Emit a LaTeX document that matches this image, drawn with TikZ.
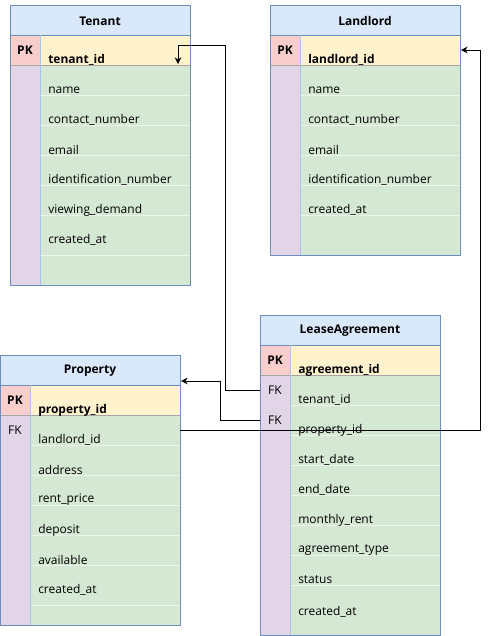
\documentclass[tikz,border=0pt]{standalone}
\usepackage{fontspec}
\setmainfont{Open Sans}
\usetikzlibrary{arrows.meta}

\definecolor{hdrfill}{HTML}{DAE8FC}
\definecolor{hdrline}{HTML}{6C8EBF}
\definecolor{pkfill}{HTML}{F8CECC}
\definecolor{keyfill}{HTML}{FFF2CC}
\definecolor{rowfill}{HTML}{D5E8D4}
\definecolor{sidefill}{HTML}{E1D5E7}
\definecolor{colline}{HTML}{A9C4EB}

\tikzset{
  title/.style={font=\fontsize{9}{11}\selectfont\bfseries},
  keytag/.style={font=\fontsize{9}{11}\selectfont},
  field/.style={anchor=west, inner sep=0pt, font=\fontsize{9}{11}\selectfont},
  rowsep/.style={white, line width=0.6pt, opacity=0.6},
  link/.style={black, line width=0.6pt},
  linkto/.style={link, -{Stealth[length=5pt,width=5pt]}}
}

\begin{document}
\begin{tikzpicture}[x=0.75pt, y=-0.75pt]
  \useasboundingbox (0,0) rectangle (489,636);

  %%%%% Tenant %%%%%
  \fill[hdrfill] (10,5) rectangle (190,35);
  \fill[pkfill] (10,35) rectangle (40,65);
  \fill[keyfill] (40,35) rectangle (190,65);
  \fill[sidefill] (10,65) rectangle (40,285);
  \fill[rowfill] (40,65) rectangle (190,285);
  \foreach \y in {95,125,155,185,215,255}
    \draw[rowsep] (40,\y) -- (190,\y);
  \draw[hdrline] (10,35) -- (190,35);
  \draw[gray!70] (10,65) -- (190,65);
  \draw[colline] (40,35) -- (40,285);
  \draw[hdrline] (10,5) rectangle (190,285);
  \node[title] (tenant) at (100,21) {Tenant};
  \node[keytag, font=\fontsize{9}{11}\selectfont\bfseries] (tenant-pk) at (25,50) {PK};
  \node[field, font=\fontsize{9}{11}\selectfont\bfseries] (tenant-id) at (48,60) {tenant\_id};
  \node[field] (tenant-name) at (48,90) {name};
  \node[field] (tenant-contact) at (48,120) {contact\_number};
  \node[field] (tenant-email) at (48,150) {email};
  \node[field] (tenant-ident) at (48,180) {identification\_number};
  \node[field] (tenant-viewing) at (48,210) {viewing\_demand};
  \node[field] (tenant-created) at (48,240) {created\_at};
  \coordinate (tenant-in) at (178,64);

  %%%%% Landlord %%%%%
  \fill[hdrfill] (270,5) rectangle (460,35);
  \fill[pkfill] (270,35) rectangle (300,65);
  \fill[keyfill] (300,35) rectangle (460,65);
  \fill[sidefill] (270,65) rectangle (300,255);
  \fill[rowfill] (300,65) rectangle (460,255);
  \foreach \y in {95,125,155,185,215}
    \draw[rowsep] (300,\y) -- (460,\y);
  \draw[hdrline] (270,35) -- (460,35);
  \draw[gray!70] (270,65) -- (460,65);
  \draw[colline] (300,35) -- (300,255);
  \draw[hdrline] (270,5) rectangle (460,255);
  \node[title] (landlord) at (365,21) {Landlord};
  \node[keytag, font=\fontsize{9}{11}\selectfont\bfseries] (landlord-pk) at (285,50) {PK};
  \node[field, font=\fontsize{9}{11}\selectfont\bfseries] (landlord-id) at (308,60) {landlord\_id};
  \node[field] (landlord-name) at (308,90) {name};
  \node[field] (landlord-contact) at (308,120) {contact\_number};
  \node[field] (landlord-email) at (308,150) {email};
  \node[field] (landlord-ident) at (308,180) {identification\_number};
  \node[field] (landlord-created) at (308,210) {created\_at};
  \coordinate (landlord-in) at (461,50);

  %%%%% Property %%%%%
  \fill[hdrfill] (0,355) rectangle (180,385);
  \fill[pkfill] (0,385) rectangle (30,415);
  \fill[keyfill] (30,385) rectangle (180,415);
  \fill[sidefill] (0,415) rectangle (30,625);
  \fill[rowfill] (30,415) rectangle (180,625);
  \foreach \y in {445,475,505,535,565,605}
    \draw[rowsep] (30,\y) -- (180,\y);
  \draw[hdrline] (0,385) -- (180,385);
  \draw[gray!70] (0,415) -- (180,415);
  \draw[colline] (30,385) -- (30,625);
  \draw[hdrline] (0.4,355) rectangle (180,625);
  \node[title] (property) at (90,371) {Property};
  \node[keytag, font=\fontsize{9}{11}\selectfont\bfseries] (property-pk) at (15,400) {PK};
  \node[field, font=\fontsize{9}{11}\selectfont\bfseries] (property-id) at (38,410) {property\_id};
  \node[keytag] (property-fk) at (15,430) {FK};
  \node[field] (property-landlord) at (38,440) {landlord\_id};
  \node[field] (property-address) at (38,470) {address};
  \node[field] (property-rent) at (38,500) {rent\_price};
  \node[field] (property-deposit) at (38,530) {deposit};
  \node[field] (property-available) at (38,560) {available};
  \node[field] (property-created) at (38,590) {created\_at};
  \coordinate (property-in) at (181,381);
  \coordinate (property-out) at (180,430);

  %%%%% LeaseAgreement %%%%%
  \fill[hdrfill] (260,315) rectangle (440,345);
  \fill[pkfill] (260,345) rectangle (290,375);
  \fill[keyfill] (290,345) rectangle (440,375);
  \fill[sidefill] (260,375) rectangle (290,635);
  \fill[rowfill] (290,375) rectangle (440,635);
  \foreach \y in {405,435,465,495,525,555,585}
    \draw[rowsep] (290,\y) -- (440,\y);
  \draw[hdrline] (260,345) -- (440,345);
  \draw[gray!70] (260,375) -- (440,375);
  \draw[colline] (290,345) -- (290,635);
  \draw[hdrline] (260,315) rectangle (440,635);
  \node[title] (lease) at (350,331) {LeaseAgreement};
  \node[keytag, font=\fontsize{9}{11}\selectfont\bfseries] (lease-pk) at (275,360) {PK};
  \node[field, font=\fontsize{9}{11}\selectfont\bfseries] (lease-id) at (298,370) {agreement\_id};
  \node[keytag] (lease-fk1) at (275,390) {FK};
  \node[field] (lease-tenant) at (298,400) {tenant\_id};
  \node[keytag] (lease-fk2) at (275,420) {FK};
  \node[field] (lease-property) at (298,430) {property\_id};
  \node[field] (lease-start) at (298,460) {start\_date};
  \node[field] (lease-end) at (298,490) {end\_date};
  \node[field] (lease-rent) at (298,520) {monthly\_rent};
  \node[field] (lease-type) at (298,550) {agreement\_type};
  \node[field] (lease-status) at (298,580) {status};
  \node[field] (lease-created) at (298,612) {created\_at};
  \coordinate (lease-tenant-out) at (260,390);
  \coordinate (lease-property-out) at (260,420);

  %%%%% links %%%%%
  \draw[linkto] (lease-tenant-out) -- (225,390) -- (225,45) -| (tenant-in);
  \draw[linkto] (lease-property-out) -- (220,420) |- (property-in);
  \draw[linkto] (property-out) -- (480,430) |- (landlord-in);
\end{tikzpicture}
\end{document}
